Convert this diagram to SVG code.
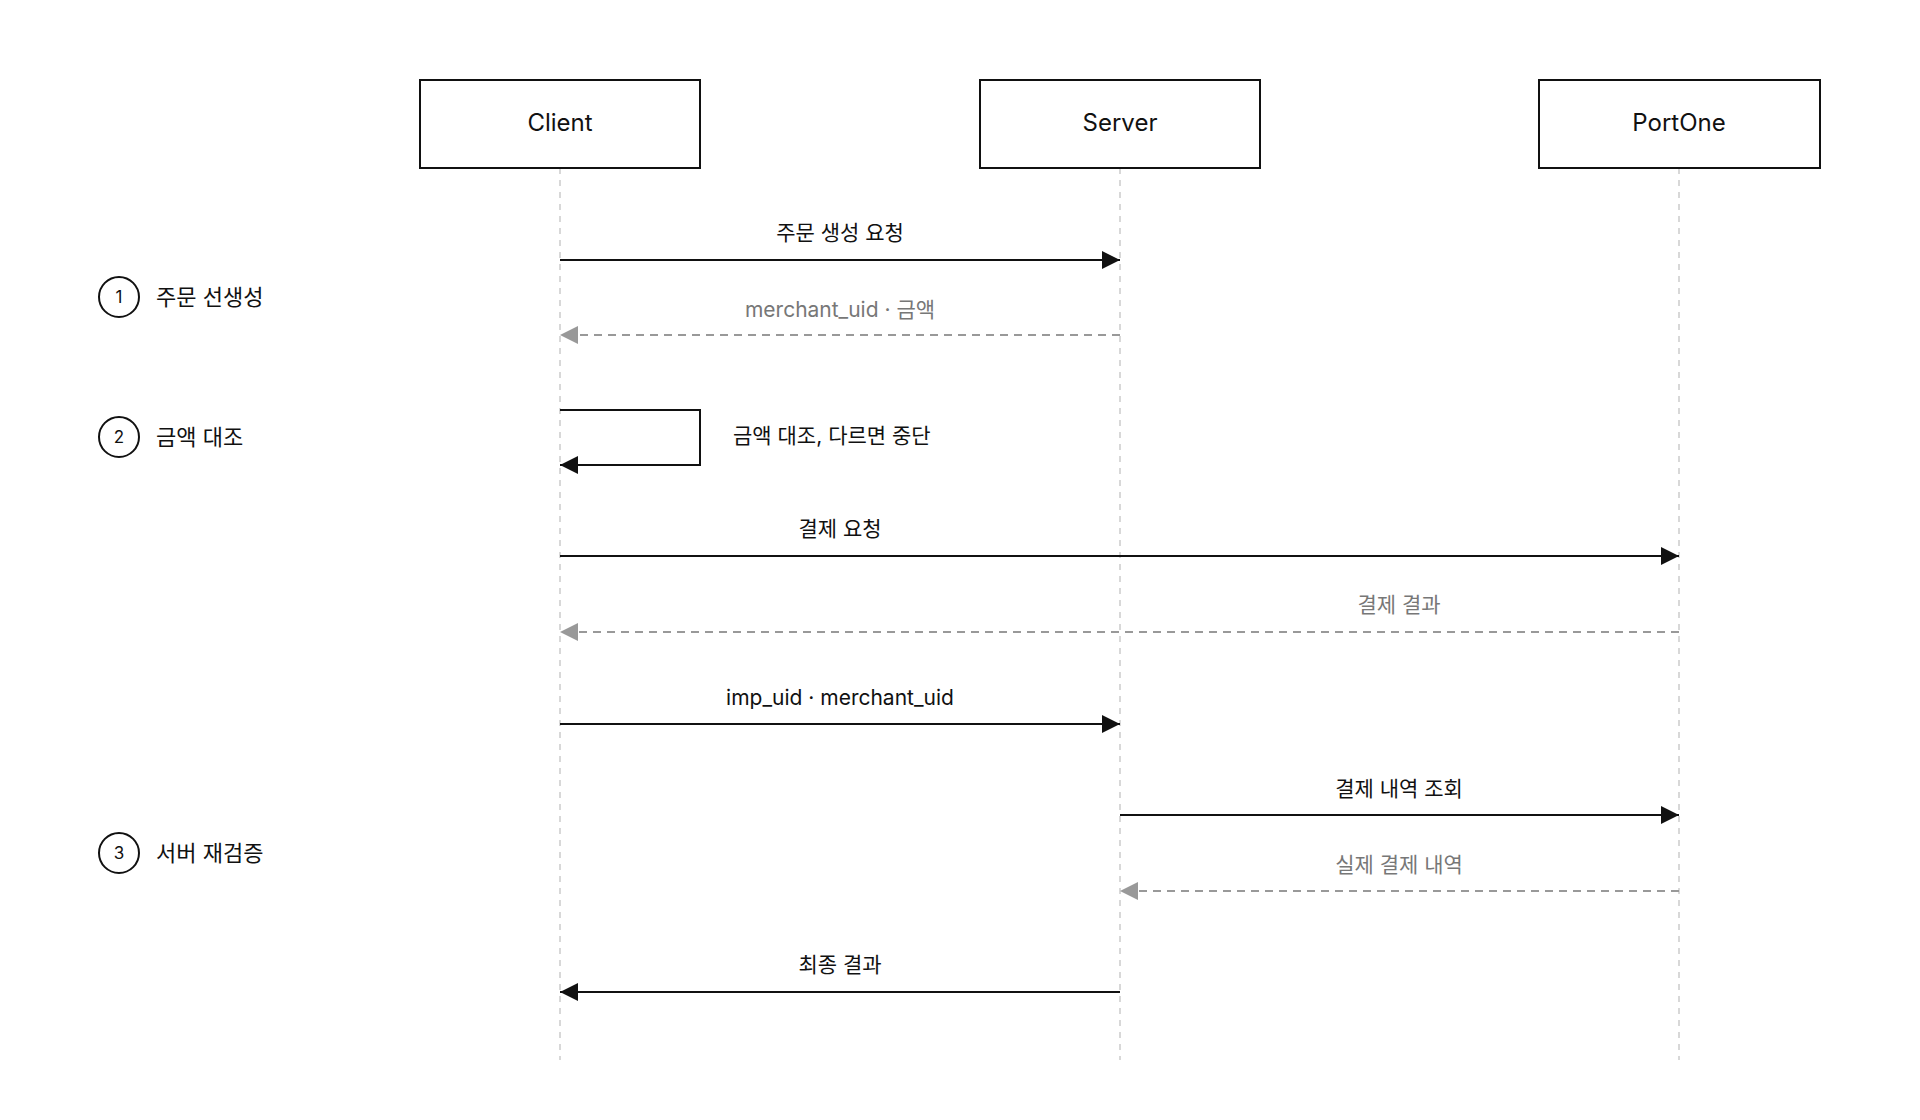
<svg xmlns="http://www.w3.org/2000/svg" width="1920" height="1120" viewBox="0 0 1920 1120">
<style>
text{font-family:Inter,"Noto Sans","Noto Sans CJK KR",sans-serif;fill:#111}
.box{fill:#fff;stroke:#111;stroke-width:2}
.life{stroke:#ccc;stroke-width:1.5;stroke-dasharray:6 6}
.msg{stroke:#111;stroke-width:2;fill:none}
.ret{stroke:#999;stroke-width:2;fill:none;stroke-dasharray:8 6}
.lbl{font-size:21px;text-anchor:middle}
.gl{font-size:21px;text-anchor:middle;fill:#777}
.step{font-size:22px}
.num{font-size:17px;text-anchor:middle}
</style>
<defs>
<marker id="a" viewBox="0 0 10 10" refX="10" refY="5" markerWidth="10" markerHeight="10" markerUnits="userSpaceOnUse" orient="auto"><path d="M0,0 L10,5 L0,10 Z" fill="#111"/></marker>
<marker id="ab" viewBox="0 0 10 10" refX="10" refY="5" markerWidth="20" markerHeight="18" markerUnits="userSpaceOnUse" orient="auto"><path d="M0,0 L10,5 L0,10 Z" fill="#111"/></marker>
<marker id="ag" viewBox="0 0 10 10" refX="10" refY="5" markerWidth="20" markerHeight="18" markerUnits="userSpaceOnUse" orient="auto"><path d="M0,0 L10,5 L0,10 Z" fill="#999"/></marker>
</defs>
<rect width="1920" height="1120" fill="#fff"/>
<g id="lifelines">
<line class="life" x1="560" y1="168" x2="560" y2="1060"/>
<line class="life" x1="1120" y1="168" x2="1120" y2="1060"/>
<line class="life" x1="1679" y1="168" x2="1679" y2="1060"/>
</g>
<g id="client"><rect class="box" x="420" y="80" width="280" height="88"/><text x="560" y="131" font-size="24" text-anchor="middle">Client</text></g>
<g id="server"><rect class="box" x="980" y="80" width="280" height="88"/><text x="1120" y="131" font-size="24" text-anchor="middle">Server</text></g>
<g id="portone"><rect class="box" x="1539" y="80" width="281" height="88"/><text x="1679" y="131" font-size="24" text-anchor="middle">PortOne</text></g>
<g id="steps">
<circle cx="119" cy="297" r="20" fill="none" stroke="#111" stroke-width="2"/><text class="num" x="119" y="303">1</text><text class="step" x="156" y="305">주문 선생성</text>
<circle cx="119" cy="437" r="20" fill="none" stroke="#111" stroke-width="2"/><text class="num" x="119" y="443">2</text><text class="step" x="156" y="445">금액 대조</text>
<circle cx="119" cy="853" r="20" fill="none" stroke="#111" stroke-width="2"/><text class="num" x="119" y="859">3</text><text class="step" x="156" y="861">서버 재검증</text>
</g>
<g id="connectors">
<line class="msg" x1="560" y1="260" x2="1120" y2="260" marker-end="url(#ab)"/>
<text class="lbl" x="840" y="240">주문 생성 요청</text>
<line class="ret" x1="1120" y1="335" x2="560" y2="335" marker-end="url(#ag)"/>
<text class="gl" x="840" y="317">merchant_uid · 금액</text>
<path class="msg" d="M560,410 H700 V465 H560" marker-end="url(#ab)"/>
<text x="733" y="443" font-size="21">금액 대조, 다르면 중단</text>
<line class="msg" x1="560" y1="556" x2="1679" y2="556" marker-end="url(#ab)"/>
<text class="lbl" x="840" y="536">결제 요청</text>
<line class="ret" x1="1679" y1="632" x2="560" y2="632" marker-end="url(#ag)"/>
<text class="gl" x="1399" y="612">결제 결과</text>
<line class="msg" x1="560" y1="724" x2="1120" y2="724" marker-end="url(#ab)"/>
<text class="lbl" x="840" y="705">imp_uid · merchant_uid</text>
<line class="msg" x1="1120" y1="815" x2="1679" y2="815" marker-end="url(#ab)"/>
<text class="lbl" x="1399" y="796">결제 내역 조회</text>
<line class="ret" x1="1679" y1="891" x2="1120" y2="891" marker-end="url(#ag)"/>
<text class="gl" x="1399" y="872">실제 결제 내역</text>
<line class="msg" x1="1120" y1="992" x2="560" y2="992" marker-end="url(#ab)"/>
<text class="lbl" x="840" y="972">최종 결과</text>
</g>
</svg>
